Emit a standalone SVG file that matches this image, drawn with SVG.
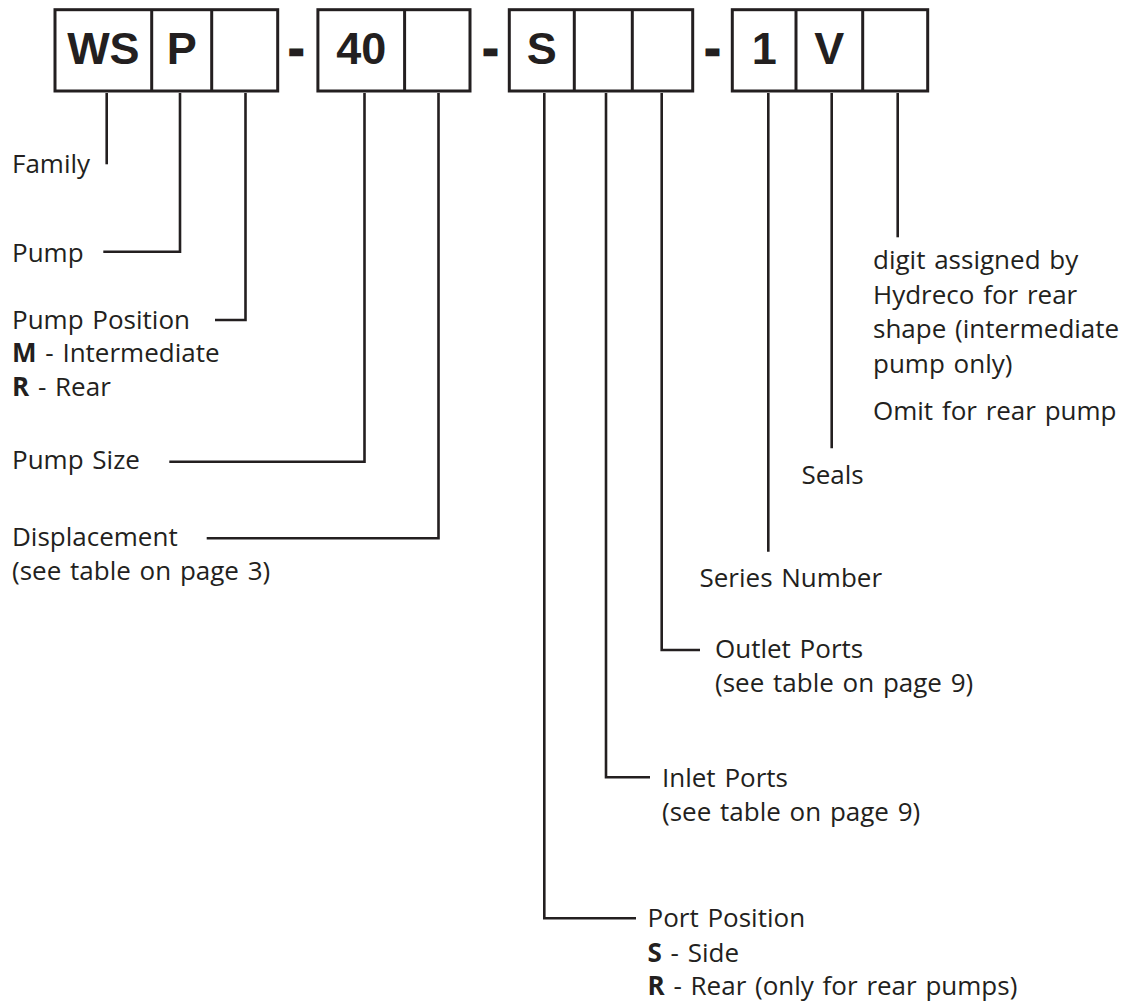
<svg xmlns="http://www.w3.org/2000/svg" width="1132" height="1003" viewBox="0 0 1132 1003">
<style>
.box{fill:none;stroke:#231f20;stroke-width:3}
.div{stroke:#231f20;stroke-width:3}
.code{font-family:"Liberation Sans",Arial,sans-serif;font-weight:bold;font-size:45px;fill:#231f20;text-anchor:middle}
.dash{font-family:"Liberation Sans",Arial,sans-serif;font-weight:bold;font-size:45px;fill:#231f20;stroke:#231f20;stroke-width:2.5;text-anchor:middle}
.lbl{font-family:"Open Sans","Liberation Sans",sans-serif;font-size:26px;fill:#231f20;word-spacing:2px}
.b{font-weight:bold}
#connectors path{fill:none;stroke:#231f20;stroke-width:2.6;stroke-linejoin:miter;stroke-linecap:butt}
</style>
<rect width="1132" height="1003" fill="#ffffff"/>
<g id="code-ws-p">
<rect class="box" x="55" y="9.7" width="222.7" height="81.3"/>
<line class="div" x1="151.7" y1="9.7" x2="151.7" y2="91"/>
<line class="div" x1="211.7" y1="9.7" x2="211.7" y2="91"/>
<text class="code" x="103.4" y="64">WS</text>
<text class="code" x="181.7" y="64">P</text>
</g>
<text id="dash1" class="dash" x="296.2" y="64">-</text>
<g id="code-40">
<rect class="box" x="317.9" y="9.7" width="152.1" height="81.3"/>
<line class="div" x1="404.6" y1="9.7" x2="404.6" y2="91"/>
<text class="code" x="361.2" y="64">40</text>
</g>
<text id="dash2" class="dash" x="490.5" y="64">-</text>
<g id="code-s">
<rect class="box" x="509.3" y="9.7" width="183.4" height="81.3"/>
<line class="div" x1="574.3" y1="9.7" x2="574.3" y2="91"/>
<line class="div" x1="632.3" y1="9.7" x2="632.3" y2="91"/>
<text class="code" x="541.8" y="64">S</text>
</g>
<text id="dash3" class="dash" x="712.5" y="64">-</text>
<g id="code-1v">
<rect class="box" x="732.3" y="9.7" width="195.4" height="81.3"/>
<line class="div" x1="796" y1="9.7" x2="796" y2="91"/>
<line class="div" x1="862.7" y1="9.7" x2="862.7" y2="91"/>
<text class="code" x="764.2" y="64">1</text>
<text class="code" x="829.3" y="64">V</text>
</g>
<g id="connectors">
<path d="M106.7 93V164.3"/>
<path d="M180 93V251.7H103.3"/>
<path d="M245.5 93V320H215"/>
<path d="M364.5 93V461.7H169.3"/>
<path d="M438.5 93V538.3H206.7"/>
<path d="M544.3 93V918.3H636"/>
<path d="M606 93V777.3H650"/>
<path d="M661.7 93V650H700"/>
<path d="M768.3 93V551.7"/>
<path d="M831.7 93V448.3"/>
<path d="M897.7 93V237.3"/>
</g>
<g id="family"><text class="lbl" x="12" y="173.3">Family</text></g>
<g id="pump"><text class="lbl" x="12" y="261.7">Pump</text></g>
<g id="pump-position">
<text class="lbl" x="12" y="329">Pump Position</text>
<text class="lbl" x="12" y="362.3"><tspan class="b">M</tspan> - Intermediate</text>
<text class="lbl" x="12" y="395.7"><tspan class="b">R</tspan> - Rear</text>
</g>
<g id="pump-size"><text class="lbl" x="12" y="469.3">Pump Size</text></g>
<g id="displacement">
<text class="lbl" x="12" y="546">Displacement</text>
<text class="lbl" x="12" y="580">(see table on page 3)</text>
</g>
<g id="rear-shape">
<text class="lbl" x="873" y="269">digit assigned by</text>
<text class="lbl" x="873" y="303.5">Hydreco for rear</text>
<text class="lbl" x="873" y="338">shape (intermediate</text>
<text class="lbl" x="873" y="372.5">pump only)</text>
<text class="lbl" x="873" y="420">Omit for rear pump</text>
</g>
<g id="seals"><text class="lbl" x="801.5" y="484">Seals</text></g>
<g id="series-number"><text class="lbl" x="699.5" y="586.7">Series Number</text></g>
<g id="outlet-ports">
<text class="lbl" x="715" y="657.7">Outlet Ports</text>
<text class="lbl" x="715" y="691.7">(see table on page 9)</text>
</g>
<g id="inlet-ports">
<text class="lbl" x="662" y="787.3">Inlet Ports</text>
<text class="lbl" x="662" y="820.7">(see table on page 9)</text>
</g>
<g id="port-position">
<text class="lbl" x="647.5" y="927.3">Port Position</text>
<text class="lbl" x="647.5" y="961.7"><tspan class="b">S</tspan> - Side</text>
<text class="lbl" x="647.5" y="995"><tspan class="b">R</tspan> - Rear (only for rear pumps)</text>
</g>
</svg>
